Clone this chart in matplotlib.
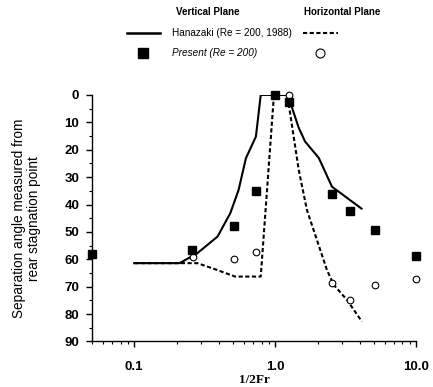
import matplotlib
matplotlib.use("Agg")
import matplotlib.pyplot as plt
from matplotlib.lines import Line2D
from matplotlib.ticker import FixedLocator, NullFormatter, LogLocator

# Hanazaki (1988) vertical plane - solid line
han_v_x = [0.1, 0.21, 0.28, 0.39, 0.48, 0.55, 0.62, 0.73, 0.79, 1.22, 1.32, 1.47, 1.63, 2.04, 2.53, 4.1]
han_v_y = [61.4, 61.4, 57.8, 51.7, 43.2, 34.7, 23.1, 15.2, 0, 0, 4.8, 12, 17, 23, 33.5, 41.5]

# Hanazaki (1988) horizontal plane - dashed line
han_h_x = [0.1, 0.28, 0.36, 0.52, 0.79, 0.98, 1.22, 1.47, 1.68, 2.33, 2.6, 3.23, 4.12]
han_h_y = [61.4, 61.4, 63.3, 66.3, 66.3, 0, 0, 27.4, 42, 63.9, 69.3, 74.8, 82.7]

# Present vertical plane - filled squares
pres_v_x = [0.05, 0.255, 0.51, 0.726, 1.0, 1.26, 2.53, 3.41, 5.12, 10.0]
pres_v_y = [58, 56.6, 47.7, 34.9, 0, 2.4, 36.1, 42.3, 49.3, 58.8]

# Present horizontal plane - open circles
pres_h_x = [0.26, 0.51, 0.726, 1.25, 2.53, 3.41, 5.12, 10.0]
pres_h_y = [59, 60, 57.5, 0, 68.7, 74.8, 69.3, 67.2]

y_ticks = [0, 10, 20, 30, 40, 50, 60, 70, 80, 90]
x_ticks = [0.1, 1.0, 10.0]
x_ticklabels = ["0.1", "1.0", "10.0"]

DASH = (0, (2.0, 1.2))

fig = plt.figure(figsize=(4.33, 3.87), dpi=100)
ax = fig.add_axes([0.212, 0.1176, 0.749, 0.637])

ax.plot(han_v_x, han_v_y, color="black", lw=1.5, solid_joinstyle="miter")
ax.plot(han_h_x, han_h_y, color="black", lw=1.5, ls=DASH)
ax.plot(pres_h_x, pres_h_y, ls="none", marker="o", ms=4.8, mfc="white",
        mec="black", mew=0.8, clip_on=False, zorder=3)
ax.plot(pres_v_x, pres_v_y, ls="none", marker="s", ms=6, mfc="black",
        mec="black", clip_on=False, zorder=4)

ax.set_xscale("log")
ax.set_xlim(0.05, 10.0)
ax.set_ylim(90, 0)

for s in ("top", "right"):
    ax.spines[s].set_visible(False)
for s in ("left", "bottom"):
    ax.spines[s].set_linewidth(1.0)

ax.set_yticks(y_ticks)
ax.yaxis.set_minor_locator(FixedLocator([5, 15, 25, 35, 45, 55, 65, 75, 85]))
ax.set_xticks(x_ticks)
ax.set_xticklabels(x_ticklabels)
ax.xaxis.set_minor_locator(LogLocator(base=10, subs=range(2, 10)))
ax.xaxis.set_minor_formatter(NullFormatter())

ax.tick_params(axis="both", which="major", direction="out", length=4, width=1,
               labelsize=9.5, pad=5)
ax.tick_params(axis="both", which="minor", direction="out", length=2.5, width=0.8)
ax.tick_params(axis="x", which="major", pad=10)
for lab in ax.get_xticklabels() + ax.get_yticklabels():
    lab.set_fontweight("bold")
    lab.set_family("Liberation Sans")

ax.set_ylabel("Separation angle measured from\nrear stagnation point",
              fontsize=9.8, family="Liberation Sans", labelpad=17, linespacing=1.1)
ax.set_xlabel("1/2Fr", fontsize=9.5, family="Liberation Serif", fontweight="bold",
              labelpad=1)

# Legend drawn in figure coordinates
W, H = 433.0, 387.0
def fx(px):
    return px / W
def fy(py):
    return 1 - py / H

fig.text(fx(208), fy(12), "Vertical Plane", ha="center", va="center",
         fontsize=7, fontweight="bold", family="Liberation Sans")
fig.text(fx(342), fy(12), "Horizontal Plane", ha="center", va="center",
         fontsize=7, fontweight="bold", family="Liberation Sans")
fig.add_artist(Line2D([fx(127), fx(160)], [fy(33), fy(33)], color="black", lw=1.8))
fig.text(fx(172), fy(33), "Hanazaki (Re = 200, 1988)", ha="left", va="center",
         fontsize=7.2, family="Liberation Sans")
fig.add_artist(Line2D([fx(303), fx(338)], [fy(33), fy(33)], color="black", lw=1.5,
                      ls=DASH))
fig.add_artist(Line2D([fx(143)], [fy(52.5)], ls="none", marker="s", ms=7,
                      mfc="black", mec="black"))
fig.text(fx(172), fy(52.5), "Present (Re = 200)", ha="left", va="center",
         fontsize=7.2, style="italic", family="Liberation Sans")
fig.add_artist(Line2D([fx(320)], [fy(52.5)], ls="none", marker="o", ms=6.5,
                      mfc="white", mec="black", mew=0.8))

fig.savefig("out.png", dpi=100)
